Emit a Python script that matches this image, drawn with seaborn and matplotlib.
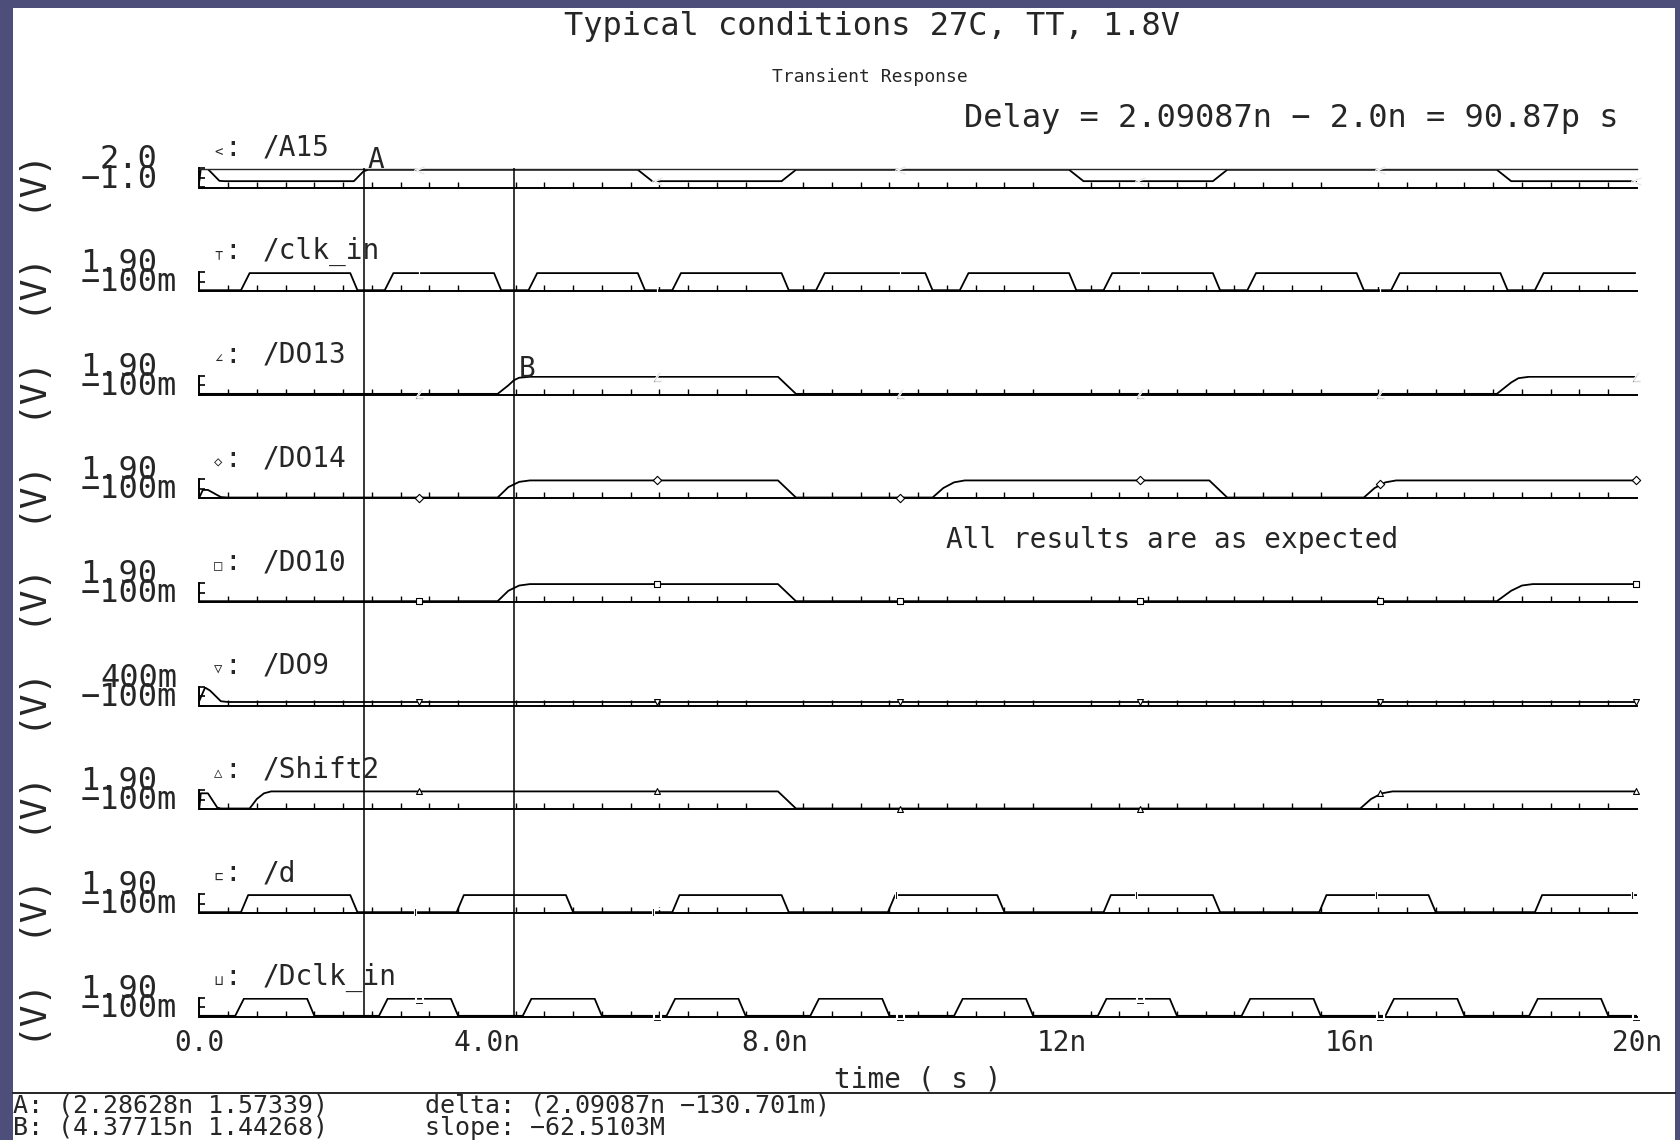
import matplotlib
matplotlib.use("Agg")
import matplotlib.pyplot as plt
import seaborn as sns
from matplotlib.ticker import MultipleLocator
from matplotlib.patches import Rectangle
from matplotlib.lines import Line2D

# ---- waveform breakpoints (time in ns, level in V) ----
a15_t = [0, 0.02, 0.12, 0.28, 0.35, 2.15, 2.286, 2.35, 6.1, 6.3, 8.1, 8.3,
         12.1, 12.3, 14.1, 14.3, 18.05, 18.25, 20]
a15_v = [0, 1.9, 1.9, 0.05, 0, 0, 1.57, 1.8, 1.8, 0, 0, 1.8,
         1.8, 0, 0, 1.8, 1.8, 0, 0]

clk_t = [0, 0.58, 0.7, 2.1, 2.2, 2.58, 2.7, 4.1, 4.2, 4.58, 4.7, 6.1, 6.2,
         6.58, 6.7, 8.1, 8.2, 8.58, 8.7, 10.1, 10.2, 10.58, 10.7, 12.1, 12.2,
         12.58, 12.7, 14.1, 14.2, 14.58, 14.7, 16.1, 16.2, 16.58, 16.7,
         18.1, 18.2, 18.58, 18.7, 20]
clk_v = [0, 0, 1.8, 1.8, 0, 0, 1.8, 1.8, 0, 0, 1.8, 1.8, 0,
         0, 1.8, 1.8, 0, 0, 1.8, 1.8, 0, 0, 1.8, 1.8, 0,
         0, 1.8, 1.8, 0, 0, 1.8, 1.8, 0, 0, 1.8,
         1.8, 0, 0, 1.8, 1.8]

do13_t = [0, 4.15, 4.3, 4.377, 4.45, 4.6, 8.05, 8.3, 18.05, 18.25, 18.35, 18.5, 20]
do13_v = [0, 0, 0.9, 1.44, 1.7, 1.8, 1.8, 0, 0, 1.2, 1.65, 1.8, 1.8]

do14_t = [0, 0.05, 0.12, 0.3, 0.4, 4.15, 4.3, 4.45, 4.6, 8.05, 8.3,
          10.2, 10.35, 10.5, 10.65, 14.05, 14.3, 16.2, 16.35, 16.5, 16.65, 20]
do14_v = [0, 0.8, 0.8, 0.05, 0, 0, 1.1, 1.65, 1.8, 1.8, 0,
          0, 1.0, 1.6, 1.8, 1.8, 0, 0, 1.0, 1.6, 1.8, 1.8]

do10_t = [0, 4.15, 4.3, 4.45, 4.6, 8.05, 8.3, 18.05, 18.25, 18.4, 18.55, 20]
do10_v = [0, 0, 1.1, 1.65, 1.8, 1.8, 0, 0, 1.1, 1.65, 1.8, 1.8]

do9_t = [0, 0.08, 0.15, 0.3, 0.4, 20]
do9_v = [0.03, 0.38, 0.3, 0.02, 0, 0]

shift2_t = [0, 0.02, 0.12, 0.25, 0.3, 0.7, 0.8, 0.9, 1.0, 8.05, 8.3,
            16.15, 16.3, 16.45, 16.6, 20]
shift2_v = [0, 1.6, 1.6, 0.1, 0, 0, 1.0, 1.6, 1.8, 1.8, 0,
            0, 1.0, 1.6, 1.8, 1.8]

d_t = [0, 0.58, 0.68, 2.1, 2.2, 3.58, 3.68, 5.1, 5.2, 6.58, 6.68, 8.1, 8.2,
       9.58, 9.68, 11.1, 11.2, 12.58, 12.68, 14.1, 14.2, 15.58, 15.68,
       17.1, 17.2, 18.58, 18.68, 20]
d_v = [0, 0, 1.8, 1.8, 0, 0, 1.8, 1.8, 0, 0, 1.8, 1.8, 0,
       0, 1.8, 1.8, 0, 0, 1.8, 1.8, 0, 0, 1.8,
       1.8, 0, 0, 1.8, 1.8]

dclk_t = [0, 0.5, 0.62, 1.5, 1.6, 2.5, 2.62, 3.5, 3.6, 4.5, 4.62, 5.5, 5.6,
          6.5, 6.62, 7.5, 7.6, 8.5, 8.62, 9.5, 9.6, 10.5, 10.62, 11.5, 11.6,
          12.5, 12.62, 13.5, 13.6, 14.5, 14.62, 15.5, 15.6, 16.5, 16.62,
          17.5, 17.6, 18.5, 18.62, 19.5, 19.6, 20]
dclk_v = [0, 0, 1.8, 1.8, 0, 0, 1.8, 1.8, 0, 0, 1.8, 1.8, 0,
          0, 1.8, 1.8, 0, 0, 1.8, 1.8, 0, 0, 1.8, 1.8, 0,
          0, 1.8, 1.8, 0, 0, 1.8, 1.8, 0, 0, 1.8,
          1.8, 0, 0, 1.8, 1.8, 0, 0]

# small trace markers drawn by the simulator
marker_t = [3.05, 6.37, 9.75, 13.08, 16.42, 19.98]
a15_mk = [1.8, 0, 1.8, 0, 1.8, 0]
clk_mk = [1.8, 0, 1.8, 1.8, 0, 1.8]
do13_mk = [0, 1.8, 0, 0, 0, 1.8]
do14_mk = [0, 1.8, 0, 1.8, 1.4, 1.8]
do10_mk = [0, 1.8, 0, 0, 0, 1.8]
do9_mk = [0, 0, 0, 0, 0, 0]
shift2_mk = [1.8, 1.8, 0, 0, 1.6, 1.8]
d_mk = [0, 0, 1.8, 1.8, 1.8, 1.8]
dclk_mk = [1.8, 0, 0, 1.8, 0, 0]

names = ["/A15", "/clk_in", "/DO13", "/DO14", "/DO10", "/DO9", "/Shift2", "/d", "/Dclk_in"]
glyphs = ["<", "⊤", "∠", "◇", "□", "▽", "△", "⊏", "⊔"]
y_lo = [-1.0, -0.1, -0.1, -0.1, -0.1, -0.1, -0.1, -0.1, -0.1]
y_hi = [2.0, 1.9, 1.9, 1.9, 1.9, 0.4, 1.9, 1.9, 1.9]
lo_labels = ["−1.0", "−100m", "−100m", "−100m", "−100m", "−100m", "−100m", "−100m", "−100m"]
hi_labels = ["2.0", "1.90", "1.90", "1.90", "1.90", "400m", "1.90", "1.90", "1.90"]
x_ticks = [0, 4, 8, 12, 16, 20]
x_ticklabels = ["0.0", "4.0n", "8.0n", "12n", "16n", "20n"]
cursor_a, cursor_b = 2.28628, 4.37715

traces = [(a15_t, a15_v, a15_mk), (clk_t, clk_v, clk_mk), (do13_t, do13_v, do13_mk),
          (do14_t, do14_v, do14_mk), (do10_t, do10_v, do10_mk), (do9_t, do9_v, do9_mk),
          (shift2_t, shift2_v, shift2_mk), (d_t, d_v, d_mk), (dclk_t, dclk_v, dclk_mk)]
marker_styles = [dict(marker="$<$", s=45), dict(marker="$\\top$", s=45),
                 dict(marker="$\\angle$", s=45),
                 dict(marker="D", s=18, facecolor="white", edgecolor="black"),
                 dict(marker="s", s=18, facecolor="white", edgecolor="black"),
                 dict(marker="v", s=18, facecolor="white", edgecolor="black"),
                 dict(marker="^", s=18, facecolor="white", edgecolor="black"),
                 dict(marker="$\\sqsubset$", s=45), dict(marker="$\\sqcup$", s=45)]

sns.set_style("white")
plt.rcParams["font.family"] = ["DejaVu Sans Mono", "DejaVu Sans"]

W, H = 1680, 1140
fig = plt.figure(figsize=(W / 100, H / 100), dpi=100, facecolor="#4e4e7a")
fig.add_artist(Rectangle((13 / W, 0), (1675 - 13) / W, (H - 8) / H,
                         transform=fig.transFigure, facecolor="white",
                         edgecolor="none", zorder=0))

# strip layout in pixels
x0, x1 = 199.3, 1637.0
strip_h = 19
bottoms = [187.5 + i * 103.66 for i in range(9)]

for i, (t, v, mk) in enumerate(traces):
    ax = fig.add_axes([x0 / W, 1 - bottoms[i] / H, (x1 - x0) / W, strip_h / H])
    ax.patch.set_alpha(0)
    sns.lineplot(x=t, y=v, ax=ax, color="black", lw=1.3, estimator=None, sort=False)
    sns.scatterplot(x=marker_t, y=mk, ax=ax, color="black", linewidth=0.8,
                    zorder=4, clip_on=False, **marker_styles[i])
    ax.set_xlim(0, 20)
    ax.set_ylim(y_lo[i], y_hi[i])
    ax.set_xlabel("")
    ax.set_ylabel("")
    for side in ["top", "right"]:
        ax.spines[side].set_visible(False)
    if i == 0:
        ax.spines["top"].set_visible(True)
        ax.spines["top"].set_linewidth(1.0)
    for side in ["left", "bottom"]:
        ax.spines[side].set_linewidth(1.4)
        ax.spines[side].set_color("black")
    ax.set_xticks(x_ticks)
    ax.xaxis.set_minor_locator(MultipleLocator(0.4))
    ax.set_yticks([y_lo[i], (y_lo[i] + y_hi[i]) / 2, y_hi[i]])
    ax.tick_params(axis="x", which="major", direction="in", length=10, width=1.2,
                   color="black", labelsize=20, pad=9, labelbottom=(i == 8))
    ax.tick_params(axis="x", which="minor", direction="in", length=4.3, width=1.0,
                   color="black", bottom=True)
    ax.tick_params(axis="y", direction="in", length=4.5, width=1.2, color="black",
                   left=True, labelleft=False)
    if i == 8:
        ax.set_xticklabels(x_ticklabels)
        ax.set_xlabel("time ( s )", fontsize=20, labelpad=6)

    # value labels on the left of each strip
    tr = ax.get_yaxis_transform()
    lo_x = -0.0155 if lo_labels[i].endswith("m") else -0.029
    hi_x = -0.0155 if hi_labels[i].endswith("m") else -0.029
    ax.text(lo_x, y_lo[i], lo_labels[i], transform=tr, ha="right", va="baseline", fontsize=23)
    ax.text(hi_x, y_hi[i], hi_labels[i], transform=tr, ha="right", va="baseline", fontsize=23)

    # trace name: marker glyph, colon, signal path
    ax.text(0.0102, 1.68, glyphs[i], transform=ax.transAxes, fontsize=10, va="baseline")
    ax.text(0.0172, 1.68, ":", transform=ax.transAxes, fontsize=20, va="baseline")
    ax.text(0.044, 1.68, names[i], transform=ax.transAxes, fontsize=20, va="baseline")

    # unit on the far left
    fig.text(30 / W, 1 - (bottoms[i] - 9.5) / H, "(V)", rotation=90,
             ha="center", va="center", fontsize=26)

# cursors A and B across all strips
ov = fig.add_axes([x0 / W, 1 - 1017 / H, (x1 - x0) / W, (1017 - 168) / H])
ov.set_xlim(0, 20)
ov.set_ylim(0, 1)
ov.axis("off")
ov.axvline(cursor_a, color="black", lw=1.1)
ov.axvline(cursor_b, color="black", lw=1.1)
ov.text(cursor_a + 0.06, 1.0, "A", fontsize=20, va="baseline", ha="left")
ov.text(cursor_b + 0.06, (1017 - 377) / (1017 - 168), "B", fontsize=20, va="baseline", ha="left")

# titles and annotations
fig.text(872 / W, 1 - 27 / H, "Typical conditions 27C, TT, 1.8V", ha="center", va="center", fontsize=23)
fig.text(870 / W, 1 - 77 / H, "Transient Response", ha="center", va="center", fontsize=13)
fig.text(964 / W, 1 - 118 / H, "Delay = 2.09087n − 2.0n = 90.87p s", ha="left", va="center", fontsize=23)
fig.text(946 / W, 1 - 540 / H, "All results are as expected", ha="left", va="center", fontsize=20)

# cursor readout at the bottom
fig.add_artist(Line2D([13 / W, 1675 / W], [1 - 1093 / H, 1 - 1093 / H],
                      transform=fig.transFigure, color="black", lw=1.2))
fig.text(13 / W, 1 - 1105 / H, "A: (2.28628n 1.57339)", ha="left", va="center", fontsize=18)
fig.text(13 / W, 1 - 1128 / H, "B: (4.37715n 1.44268)", ha="left", va="center", fontsize=18)
fig.text(425 / W, 1 - 1105 / H, "delta: (2.09087n −130.701m)", ha="left", va="center", fontsize=18)
fig.text(425 / W, 1 - 1128 / H, "slope: −62.5103M", ha="left", va="center", fontsize=18)

fig.savefig("out.png", dpi=100, facecolor=fig.get_facecolor())
